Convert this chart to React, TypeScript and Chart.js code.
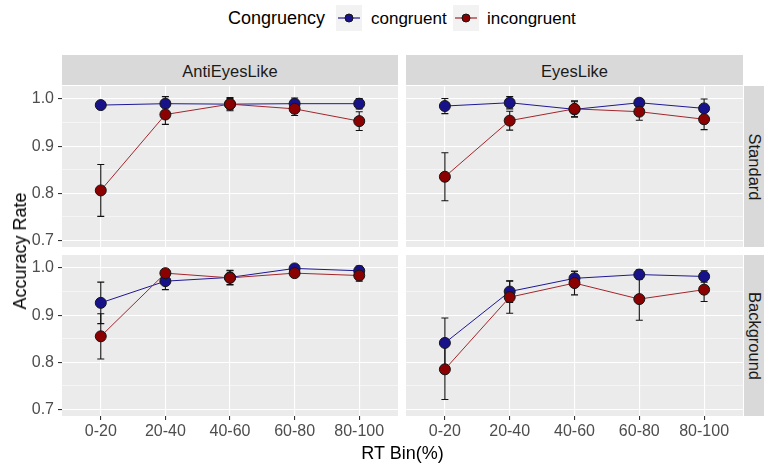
import React, { useEffect, useRef } from 'react';
import { Chart, registerables } from 'chart.js';

Chart.register(...registerables);

const FONT = "'Liberation Sans', Arial, sans-serif";
Chart.defaults.font.family = FONT;

// ---- data ----
const categories = ['0-20', '20-40', '40-60', '60-80', '80-100'];
const yTickValues = [0.7, 0.75, 0.8, 0.85, 0.9, 0.95, 1.0];
const seriesNames = ['congruent', 'incongruent'];
const columnFacets = ['AntiEyesLike', 'EyesLike'];
const rowFacets = ['Standard', 'Background'];

// AntiEyesLike / Standard
const antiStdCongruent = [0.987, 0.99, 0.989, 0.99, 0.99];
const antiStdCongruentErr = [0.004, 0.015, 0.012, 0.012, 0.011];
const antiStdIncongruent = [0.806, 0.967, 0.989, 0.979, 0.953];
const antiStdIncongruentErr = [0.055, 0.021, 0.014, 0.014, 0.02];
// EyesLike / Standard
const eyesStdCongruent = [0.985, 0.992, 0.978, 0.992, 0.98];
const eyesStdCongruentErr = [0.016, 0.013, 0.016, 0.008, 0.02];
const eyesStdIncongruent = [0.835, 0.954, 0.979, 0.973, 0.957];
const eyesStdIncongruentErr = [0.051, 0.02, 0.017, 0.018, 0.022];
// AntiEyesLike / Background
const antiBgCongruent = [0.926, 0.972, 0.98, 0.999, 0.994];
const antiBgCongruentErr = [0.044, 0.018, 0.015, 0.005, 0.01];
const antiBgIncongruent = [0.855, 0.989, 0.979, 0.989, 0.984];
const antiBgIncongruentErr = [0.048, 0.008, 0.015, 0.008, 0.012];
// EyesLike / Background
const eyesBgCongruent = [0.841, 0.95, 0.978, 0.986, 0.982];
const eyesBgCongruentErr = [0.053, 0.023, 0.015, 0.01, 0.012];
const eyesBgIncongruent = [0.785, 0.938, 0.968, 0.934, 0.954];
const eyesBgIncongruentErr = [0.064, 0.034, 0.025, 0.045, 0.025];

// ---- styles ----
const BLUE = '#18128A';
const RED = '#8B0000';
const BLUE_LINE = '#1E1896';
const RED_LINE = '#A3262C';
const PANEL_BG = '#EBEBEB';
const STRIP_BG = '#D9D9D9';
const Y_MIN = 0.686;
const Y_MAX = 1.0275;

const isMajor = (v: number) => Math.abs(v * 10 - Math.round(v * 10)) < 1e-6;

const bgPlugin = {
  id: 'panelBg',
  beforeDraw(chart: any) {
    const { ctx, chartArea } = chart;
    ctx.save();
    ctx.fillStyle = PANEL_BG;
    ctx.fillRect(chartArea.left, chartArea.top, chartArea.right - chartArea.left, chartArea.bottom - chartArea.top);
    ctx.restore();
  },
};

const errorBarPlugin = {
  id: 'errorBars',
  beforeDatasetsDraw(chart: any) {
    const { ctx } = chart;
    const xs = chart.scales.x;
    const ys = chart.scales.y;
    ctx.save();
    ctx.strokeStyle = '#111111';
    ctx.lineWidth = 1.1;
    chart.data.datasets.forEach((ds: any) => {
      if (!ds.errorBars) return;
      ds.data.forEach((p: any, i: number) => {
        const e = ds.errorBars[i];
        const x = xs.getPixelForValue(p.x);
        const yT = ys.getPixelForValue(p.y + e);
        const yB = ys.getPixelForValue(p.y - e);
        ctx.beginPath();
        ctx.moveTo(x, yT);
        ctx.lineTo(x, yB);
        ctx.moveTo(x - 3.5, yT);
        ctx.lineTo(x + 3.5, yT);
        ctx.moveTo(x - 3.5, yB);
        ctx.lineTo(x + 3.5, yB);
        ctx.stroke();
      });
    });
    ctx.restore();
  },
};

const toPoints = (vals: number[]) => vals.map((v, i) => ({ x: i, y: v }));

type PanelProps = {
  left: number;
  top: number;
  width: number;
  height: number;
  showY: boolean;
  showX: boolean;
  cong: number[];
  congErr: number[];
  incong: number[];
  incongErr: number[];
};

function Panel(props: PanelProps) {
  const ref = useRef<HTMLCanvasElement>(null);
  const { left, top, width, height, showY, showX, cong, congErr, incong, incongErr } = props;
  useEffect(() => {
    const chart = new Chart(ref.current as HTMLCanvasElement, {
      type: 'line',
      data: {
        datasets: [
          { label: seriesNames[0] + ' line', data: toPoints(cong), borderColor: BLUE_LINE, borderWidth: 1, pointRadius: 0, order: 4 } as any,
          { label: seriesNames[1] + ' line', data: toPoints(incong), borderColor: RED_LINE, borderWidth: 1, pointRadius: 0, order: 3 } as any,
          {
            label: seriesNames[0], data: toPoints(cong), errorBars: congErr, showLine: false,
            pointRadius: 5.5, pointBackgroundColor: BLUE, pointBorderColor: '#151515', pointBorderWidth: 1, order: 2,
          } as any,
          {
            label: seriesNames[1], data: toPoints(incong), errorBars: incongErr, showLine: false,
            pointRadius: 5.5, pointBackgroundColor: RED, pointBorderColor: '#151515', pointBorderWidth: 1, order: 1,
          } as any,
        ],
      },
      options: {
        responsive: false,
        maintainAspectRatio: false,
        animation: false,
        layout: { padding: 0, autoPadding: false },
        plugins: { legend: { display: false }, tooltip: { enabled: false } },
        scales: {
          x: {
            type: 'linear',
            min: -0.6,
            max: categories.length - 1 + 0.6,
            afterBuildTicks: (s: any) => {
              s.ticks = categories.map((_, i) => ({ value: i }));
            },
            afterFit: (s: any) => {
              s.height = showX ? 30 : 0;
              s.paddingLeft = 0;
              s.paddingRight = 0;
            },
            border: { display: false },
            grid: { color: '#FFFFFF', lineWidth: 1.1, drawTicks: showX, tickLength: 4, tickColor: '#333333', tickWidth: 1.1 },
            ticks: {
              display: showX, autoSkip: false, maxRotation: 0, minRotation: 0, padding: 2,
              color: '#4D4D4D', font: { family: FONT, size: 16 },
              callback: (v: any) => categories[v] ?? '',
            },
          },
          y: {
            type: 'linear',
            min: Y_MIN,
            max: Y_MAX,
            afterBuildTicks: (s: any) => {
              s.ticks = yTickValues.map((v) => ({ value: v }));
            },
            afterFit: (s: any) => {
              s.width = showY ? 62 : 0;
              s.paddingTop = 0;
              s.paddingBottom = 0;
            },
            border: { display: false },
            grid: {
              color: '#FFFFFF',
              lineWidth: (c: any) => (c.tick && isMajor(c.tick.value) ? 1.1 : 0.5),
              drawTicks: showY,
              tickLength: 4,
              tickWidth: 1.1,
              tickColor: (c: any) => (c.tick && isMajor(c.tick.value) ? '#333333' : 'rgba(0,0,0,0)'),
            },
            ticks: {
              display: showY, padding: 4, color: '#4D4D4D', font: { family: FONT, size: 16 },
              callback: (v: any) => (isMajor(v) ? Number(v).toFixed(1) : ''),
            },
          },
        },
      } as any,
      plugins: [bgPlugin, errorBarPlugin],
    });
    return () => chart.destroy();
  }, []);
  return (
    <canvas
      ref={ref}
      width={width}
      height={height}
      style={{ position: 'absolute', left, top, width, height }}
    />
  );
}

function LegendKey({ left, color, line }: { left: number; color: string; line: string }) {
  return (
    <svg width={26} height={26} style={{ position: 'absolute', left, top: 5 }}>
      <rect x={0} y={0} width={26} height={26} fill="#F2F2F2" />
      <line x1={2} x2={24} y1={13} y2={13} stroke={line} strokeWidth={1.2} />
      <circle cx={13} cy={13} r={4} fill={color} stroke="#151515" strokeWidth={1} />
    </svg>
  );
}

const textBase: React.CSSProperties = {
  position: 'absolute',
  fontFamily: FONT,
  lineHeight: 1,
  whiteSpace: 'nowrap',
};

export default function App() {
  return (
    <div style={{ position: 'absolute', left: 0, top: 0, width: 764, height: 468, overflow: 'hidden', background: '#FFFFFF' }}>
      {/* legend */}
      <div style={{ ...textBase, left: 228, top: 9, fontSize: 18, color: '#000' }}>Congruency</div>
      <LegendKey left={336} color={BLUE} line={BLUE_LINE} />
      <div style={{ ...textBase, left: 371, top: 9.5, fontSize: 17, color: '#000' }}>{seriesNames[0]}</div>
      <LegendKey left={453} color={RED} line={RED_LINE} />
      <div style={{ ...textBase, left: 487, top: 9.5, fontSize: 17, color: '#000' }}>{seriesNames[1]}</div>

      {/* column strips */}
      <div style={{ position: 'absolute', left: 62, top: 55, width: 336, height: 30, background: STRIP_BG }} />
      <div style={{ ...textBase, left: 230, top: 71, fontSize: 16.5, color: '#1A1A1A', transform: 'translate(-50%,-50%)' }}>{columnFacets[0]}</div>
      <div style={{ position: 'absolute', left: 406, top: 55, width: 337, height: 30, background: STRIP_BG }} />
      <div style={{ ...textBase, left: 574.5, top: 71, fontSize: 16.5, color: '#1A1A1A', transform: 'translate(-50%,-50%)' }}>{columnFacets[1]}</div>

      {/* row strips */}
      <div style={{ position: 'absolute', left: 744, top: 86, width: 20, height: 161, background: STRIP_BG }} />
      <div style={{ ...textBase, left: 755, top: 166.5, fontSize: 16.5, color: '#1A1A1A', transform: 'translate(-50%,-50%) rotate(90deg)' }}>{rowFacets[0]}</div>
      <div style={{ position: 'absolute', left: 744, top: 255, width: 20, height: 161, background: STRIP_BG }} />
      <div style={{ ...textBase, left: 755, top: 335.5, fontSize: 16.5, color: '#1A1A1A', transform: 'translate(-50%,-50%) rotate(90deg)' }}>{rowFacets[1]}</div>

      {/* panels */}
      <Panel left={0} top={86} width={398} height={161} showY={true} showX={false}
        cong={antiStdCongruent} congErr={antiStdCongruentErr} incong={antiStdIncongruent} incongErr={antiStdIncongruentErr} />
      <Panel left={406} top={86} width={337} height={161} showY={false} showX={false}
        cong={eyesStdCongruent} congErr={eyesStdCongruentErr} incong={eyesStdIncongruent} incongErr={eyesStdIncongruentErr} />
      <Panel left={0} top={255} width={398} height={191} showY={true} showX={true}
        cong={antiBgCongruent} congErr={antiBgCongruentErr} incong={antiBgIncongruent} incongErr={antiBgIncongruentErr} />
      <Panel left={406} top={255} width={337} height={191} showY={false} showX={true}
        cong={eyesBgCongruent} congErr={eyesBgCongruentErr} incong={eyesBgIncongruent} incongErr={eyesBgIncongruentErr} />

      {/* axis titles */}
      <div style={{ ...textBase, left: 20, top: 251, fontSize: 18, color: '#000', transform: 'translate(-50%,-50%) rotate(-90deg)' }}>Accuracy Rate</div>
      <div style={{ ...textBase, left: 402.5, top: 453, fontSize: 18, color: '#000', transform: 'translate(-50%,-50%)' }}>RT Bin(%)</div>
    </div>
  );
}
